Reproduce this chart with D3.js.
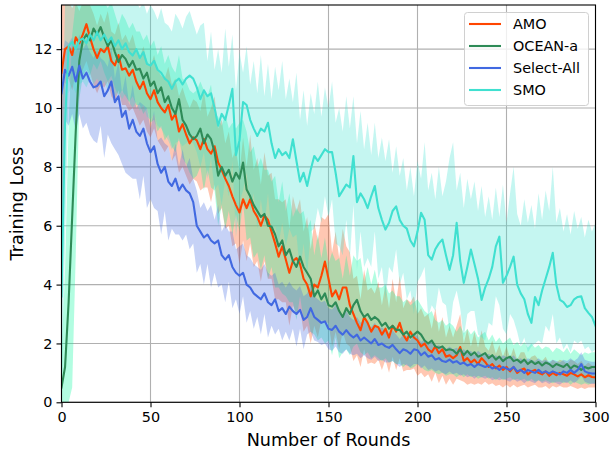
<!DOCTYPE html>
<html>
<head>
<meta charset="utf-8">
<script src="https://cdn.jsdelivr.net/npm/d3@7"></script>
<style>
  body { margin: 0; background: #fff; }
  svg { display: block; }
  text { font-family: "DejaVu Sans", sans-serif; fill: #000; }
</style>
</head>
<body>
<svg id="chart" width="612" height="450"></svg>
<script>
// Training rounds sampled every 2 rounds
const rounds = d3.range(0, 301, 2);

// AMO
const amoMean = [
  11.2, 12.0, 12.1, 11.8, 12.4, 12.2, 12.5, 12.85, 12.4, 12.0,
  11.7, 12.0, 11.9, 12.1, 11.6, 11.45, 11.8, 11.3, 11.35, 11.1,
  11.3, 10.9, 10.65, 10.9, 10.5, 10.3, 10.6, 10.2, 10.0, 9.85,
  10.1, 9.6, 9.8, 9.2, 9.45, 9.1, 8.8, 9.0, 8.9, 8.6,
  8.95, 8.6, 8.45, 8.7, 8.15, 7.9, 7.6, 7.35, 7.0, 6.7,
  6.45, 6.9, 6.6, 6.9, 6.5, 6.3, 6.0, 6.35, 6.2, 5.8,
  5.4, 4.95, 5.3, 4.85, 4.4, 4.8, 4.9, 4.7, 4.2, 4.0,
  3.6, 4.0, 3.9, 4.3, 4.78, 4.2, 3.6, 3.8, 3.5, 3.9,
  3.9, 3.3, 3.0, 2.7, 2.45, 2.9, 2.7, 2.4, 2.6, 2.55,
  2.3, 2.5, 2.2, 2.6, 2.4, 2.7, 2.3, 2.1, 2.4, 2.2,
  2.1, 1.9, 2.0, 1.8, 1.7, 1.9, 1.67, 1.8, 1.55, 1.6,
  1.5, 1.6, 1.88, 1.4, 1.5, 1.35, 1.45, 1.3, 1.5, 1.37,
  1.2, 1.3, 1.15, 1.25, 1.1, 1.2, 1.05, 1.2, 1.0, 1.1,
  1.15, 0.95, 1.05, 1.1, 1.0, 0.95, 1.05, 0.9, 1.0, 0.92,
  1.0, 0.95, 0.9, 1.0, 0.95, 0.88, 0.95, 0.85, 0.92, 0.86,
  0.85
];
const amoHi = [
  13.6, 13.6, 13.6, 13.4, 13.6, 13.3, 13.6, 13.6, 13.5, 13.2,
  12.8, 13.2, 12.9, 13.3, 12.6, 12.5, 12.9, 12.3, 12.5, 12.2,
  12.5, 12.0, 11.7, 12.1, 11.6, 11.4, 11.8, 11.3, 11.1, 11.0,
  11.4, 10.8, 11.0, 10.4, 10.7, 10.3, 10.0, 10.3, 10.2, 9.9,
  10.6, 9.7, 10.0, 10.4, 9.3, 9.6, 8.8, 9.2, 8.3, 8.6,
  7.8, 9.0, 8.0, 9.1, 7.9, 8.3, 7.4, 8.5, 7.7, 7.8,
  6.9, 6.9, 6.8, 6.9, 5.9, 7.0, 6.5, 6.9, 5.8, 6.3,
  5.2, 6.1, 5.5, 6.3, 6.2, 6.4, 5.1, 5.8, 4.9, 5.9,
  5.3, 5.1, 4.2, 4.3, 3.5, 4.5, 3.8, 3.9, 3.7, 4.1,
  3.3, 4.0, 3.2, 4.2, 3.4, 4.3, 3.2, 3.5, 3.4, 3.6,
  3.0, 3.2, 2.9, 3.0, 2.5, 3.2, 2.4, 2.9, 2.2, 2.6,
  2.2, 2.6, 3.0, 2.0, 2.5, 1.9, 2.4, 1.85, 2.45, 1.9,
  1.75, 2.1, 1.65, 1.95, 1.55, 1.9, 1.5, 1.85, 1.45, 1.7,
  1.7, 1.4, 1.55, 1.6, 1.45, 1.4, 1.55, 1.3, 1.45, 1.35,
  1.45, 1.4, 1.3, 1.45, 1.4, 1.3, 1.4, 1.25, 1.35, 1.25,
  1.25
];
const amoLo = [
  2.0, 10.8, 11.0, 10.6, 11.2, 11.0, 11.3, 11.6, 11.2, 10.8,
  10.5, 10.8, 10.7, 10.9, 10.4, 10.2, 10.6, 10.1, 10.1, 9.9,
  10.0, 9.7, 9.4, 9.6, 9.2, 9.0, 9.3, 8.9, 8.7, 8.5,
  8.7, 8.2, 8.4, 7.8, 8.0, 7.7, 7.4, 7.6, 7.5, 7.2,
  7.3, 7.3, 6.8, 7.4, 6.4, 6.6, 5.9, 6.0, 5.3, 5.4,
  4.7, 5.5, 4.8, 5.4, 4.6, 4.8, 4.1, 4.8, 4.2, 4.2,
  3.5, 3.5, 3.4, 3.4, 2.6, 3.3, 3.0, 3.2, 2.4, 2.6,
  2.0, 2.6, 2.2, 2.8, 2.7, 2.7, 1.9, 2.4, 1.8, 2.4,
  2.0, 1.9, 1.4, 1.6, 1.2, 1.8, 1.3, 1.35, 1.3, 1.45,
  1.1, 1.45, 1.0, 1.55, 1.1, 1.5, 1.05, 1.1, 1.1, 1.15,
  0.9, 1.0, 0.85, 0.95, 0.7, 1.0, 0.65, 0.9, 0.6, 0.8,
  0.6, 0.8, 0.75, 0.7, 0.6, 0.65, 0.6, 0.65, 0.6, 0.7,
  0.6, 0.65, 0.55, 0.6, 0.5, 0.6, 0.5, 0.6, 0.5, 0.55,
  0.6, 0.5, 0.55, 0.6, 0.5, 0.5, 0.55, 0.45, 0.55, 0.5,
  0.55, 0.5, 0.5, 0.55, 0.5, 0.45, 0.5, 0.45, 0.5, 0.5,
  0.5
];

// OCEAN-a
const oceanMean = [
  0.5, 1.2, 3.4, 6.3, 9.2, 11.6, 12.3, 12.5, 12.3, 12.7,
  12.5, 12.75, 12.4, 12.1, 12.3, 11.9, 11.56, 11.8, 11.67, 11.4,
  11.6, 11.3, 11.33, 11.0, 11.2, 10.75, 10.9, 10.5, 10.7, 10.2,
  10.4, 10.0, 9.8, 10.3, 9.6, 9.4, 9.1, 8.94, 9.05, 9.3,
  8.8, 9.1, 8.94, 8.5, 7.7, 8.0, 7.7, 7.9, 7.5, 7.8,
  7.6, 8.15, 7.23, 7.0, 6.7, 6.5, 6.3, 6.4, 6.0, 5.97,
  5.7, 5.3, 5.5, 5.0, 5.2, 4.8, 4.6, 4.95, 4.6, 4.4,
  4.2, 3.6, 3.8, 3.5, 3.7, 3.3, 3.25, 3.4, 3.1, 2.9,
  3.2, 3.0, 3.3, 3.48, 3.1, 2.9, 3.0, 2.8, 2.9, 2.8,
  2.6, 2.7, 2.5, 2.6, 2.46, 2.46, 2.3, 2.4, 2.2, 2.3,
  2.4, 2.3, 2.1, 2.0, 2.1, 1.9, 1.85, 1.9, 1.77, 1.8,
  1.77, 1.65, 1.8, 1.6, 1.75, 1.6, 1.7, 1.55, 1.6, 1.67,
  1.5, 1.6, 1.45, 1.55, 1.4, 1.5, 1.55, 1.4, 1.45, 1.35,
  1.45, 1.3, 1.4, 1.3, 1.37, 1.25, 1.35, 1.3, 1.2, 1.3,
  1.25, 1.2, 1.3, 1.15, 1.25, 1.2, 1.1, 1.2, 1.15, 1.2,
  1.2
];
const oceanHi = [
  1.5, 4.5, 9.5, 12.5, 13.6, 13.6, 13.6, 13.6, 13.6, 13.6,
  13.6, 13.6, 13.6, 13.4, 13.6, 13.2, 12.8, 13.2, 13.0, 12.7,
  12.9, 12.6, 12.6, 12.3, 12.5, 12.1, 12.3, 11.8, 12.1, 11.5,
  11.8, 11.4, 11.2, 11.8, 11.0, 10.9, 10.6, 10.5, 10.6, 10.9,
  10.6, 10.4, 10.8, 9.8, 9.7, 9.4, 9.8, 9.3, 9.5, 9.3,
  9.5, 9.6, 9.2, 8.5, 8.7, 8.0, 8.3, 7.9, 7.9, 7.5,
  7.7, 6.8, 7.5, 6.5, 7.1, 6.3, 6.6, 6.4, 6.5, 5.9,
  6.2, 5.0, 5.7, 4.9, 5.6, 4.7, 5.1, 4.8, 4.9, 4.2,
  5.0, 4.3, 5.0, 4.8, 4.9, 4.1, 4.6, 4.0, 4.5, 3.9,
  3.9, 4.0, 3.7, 3.8, 3.6, 3.6, 3.4, 3.5, 3.3, 3.4,
  3.5, 3.3, 3.1, 3.0, 3.1, 2.8, 2.7, 2.8, 2.6, 2.7,
  2.6, 2.4, 2.6, 2.35, 2.5, 2.3, 2.45, 2.2, 2.3, 2.4,
  2.1, 2.3, 2.05, 2.2, 2.0, 2.1, 2.2, 1.95, 2.05, 1.9,
  2.05, 1.85, 2.0, 1.85, 1.95, 1.8, 1.9, 1.85, 1.7, 1.85,
  1.8, 1.7, 1.85, 1.65, 1.8, 1.7, 1.6, 1.7, 1.65, 1.7,
  1.7
];
const oceanLo = [
  0.0, 0.0, 0.0, 0.5, 5.0, 10.3, 11.1, 11.3, 11.1, 11.5,
  11.3, 11.6, 11.2, 10.9, 11.1, 10.7, 10.4, 10.6, 10.4, 10.2,
  10.4, 10.1, 10.1, 9.8, 10.0, 9.5, 9.6, 9.2, 9.4, 8.9,
  9.1, 8.7, 8.5, 9.0, 8.3, 8.1, 7.8, 7.6, 7.7, 8.0,
  7.2, 7.9, 7.3, 7.2, 6.0, 6.7, 5.9, 6.5, 5.7, 6.4,
  5.8, 6.8, 5.5, 5.6, 4.9, 5.1, 4.5, 5.0, 4.2, 4.6,
  3.9, 3.9, 3.7, 3.6, 3.4, 3.4, 2.8, 3.6, 2.8, 3.0,
  2.4, 2.3, 2.1, 2.2, 2.0, 2.1, 1.6, 2.2, 1.5, 1.7,
  1.8, 1.6, 1.9, 2.0, 1.7, 1.6, 1.7, 1.5, 1.6, 1.5,
  1.4, 1.5, 1.35, 1.4, 1.3, 1.3, 1.2, 1.3, 1.15, 1.2,
  1.3, 1.2, 1.1, 1.05, 1.1, 1.0, 0.95, 1.0, 0.9, 0.95,
  0.95, 0.85, 0.95, 0.85, 0.95, 0.85, 0.9, 0.8, 0.85, 0.9,
  0.8, 0.85, 0.75, 0.85, 0.75, 0.8, 0.85, 0.75, 0.8, 0.75,
  0.8, 0.7, 0.8, 0.7, 0.75, 0.7, 0.75, 0.7, 0.65, 0.7,
  0.7, 0.65, 0.7, 0.6, 0.7, 0.65, 0.6, 0.65, 0.6, 0.65,
  0.65
];

// Select-All
const selectMean = [
  10.5, 11.3, 11.1, 11.4, 10.9, 11.44, 11.0, 11.2, 10.9, 10.7,
  10.75, 10.9, 10.4, 10.6, 10.9, 10.2, 10.4, 9.7, 9.9, 9.3,
  9.6, 9.2, 9.05, 9.3, 8.8, 8.5, 8.7, 8.1, 7.8, 8.0,
  7.5, 7.35, 7.6, 7.2, 7.4, 7.2, 7.1, 6.8, 6.0, 5.8,
  5.6, 5.7, 5.5, 5.4, 5.5, 5.0, 4.85, 5.0, 4.6, 4.4,
  4.3, 4.4, 4.0, 3.9, 3.7, 3.6, 3.5, 3.7, 3.4, 3.3,
  3.5, 3.1, 3.2, 3.0, 3.25, 3.1, 3.0, 3.14, 2.8, 2.9,
  3.2, 2.9, 2.8, 2.7, 2.75, 2.5, 2.46, 2.6, 2.4, 2.3,
  2.45, 2.3, 2.2, 2.3, 2.1, 2.2, 2.1, 2.0, 2.15, 1.95,
  2.0, 1.9, 1.85, 1.95, 1.8, 1.67, 1.8, 1.75, 1.65, 1.8,
  1.77, 1.6, 1.7, 1.55, 1.6, 1.45, 1.5, 1.4, 1.37, 1.45,
  1.35, 1.4, 1.3, 1.35, 1.25, 1.3, 1.2, 1.3, 1.25, 1.2,
  1.25, 1.15, 1.2, 1.1, 1.2, 1.15, 1.1, 1.2, 1.05, 1.1,
  1.0, 1.1, 1.05, 1.0, 1.1, 1.0, 1.05, 0.98, 1.05, 1.0,
  0.95, 1.05, 1.0, 1.1, 1.0, 1.1, 1.3, 1.05, 1.0, 0.98,
  0.98
];
const selectHi = [
  11.5, 12.3, 12.2, 12.4, 11.9, 12.5, 12.0, 12.2, 11.9, 11.7,
  12.0, 11.7, 11.6, 11.4, 12.1, 11.0, 11.6, 10.5, 11.1, 10.1,
  10.8, 10.0, 10.2, 10.1, 10.0, 9.3, 9.9, 8.9, 9.0, 8.8,
  8.7, 8.2, 8.8, 8.0, 8.6, 8.0, 8.3, 7.6, 7.2, 6.6,
  6.8, 6.5, 6.7, 6.2, 6.7, 5.8, 6.05, 5.8, 5.8, 5.2,
  5.3, 5.4, 5.0, 4.9, 4.7, 4.6, 4.5, 4.7, 4.4, 4.3,
  4.4, 4.0, 4.1, 3.9, 4.1, 3.9, 3.8, 3.95, 3.6, 3.7,
  4.0, 3.6, 3.5, 3.4, 3.45, 3.2, 3.15, 3.3, 3.05, 2.95,
  3.1, 2.9, 2.8, 2.9, 2.7, 2.8, 2.65, 2.55, 2.7, 2.5,
  2.55, 2.45, 2.35, 2.45, 2.3, 2.15, 2.3, 2.25, 2.1, 2.3,
  2.25, 2.05, 2.15, 2.0, 2.05, 1.9, 1.95, 1.85, 1.8, 1.9,
  1.8, 1.85, 1.75, 1.8, 1.7, 1.75, 1.6, 1.75, 1.65, 1.6,
  1.65, 1.55, 1.6, 1.5, 1.6, 1.55, 1.5, 1.6, 1.45, 1.5,
  1.4, 1.5, 1.45, 1.4, 1.5, 1.4, 1.45, 1.38, 1.45, 1.4,
  1.35, 1.45, 1.4, 1.5, 1.4, 1.5, 1.7, 1.45, 1.4, 1.38,
  1.38
];
const selectLo = [
  3.0, 9.6, 9.4, 9.8, 9.2, 9.8, 9.3, 9.5, 9.1, 8.9,
  8.8, 9.4, 8.3, 9.1, 8.8, 8.6, 8.4, 8.1, 7.8, 7.7,
  7.6, 7.6, 6.9, 7.7, 6.6, 6.9, 6.6, 6.5, 5.7, 6.5,
  5.5, 5.9, 5.7, 5.7, 5.5, 5.7, 5.2, 5.4, 4.4, 4.7,
  4.0, 4.7, 3.9, 4.4, 3.9, 4.0, 3.4, 4.1, 3.2, 3.5,
  3.0, 3.6, 2.7, 3.1, 2.5, 2.9, 2.3, 3.0, 2.2, 2.6,
  2.3, 2.5, 2.1, 2.4, 2.1, 2.5, 1.9, 2.5, 1.8, 2.3,
  2.4, 2.1, 2.05, 1.95, 2.0, 1.8, 1.75, 1.9, 1.7, 1.65,
  1.8, 1.65, 1.6, 1.65, 1.5, 1.6, 1.5, 1.45, 1.55, 1.4,
  1.45, 1.35, 1.35, 1.4, 1.3, 1.2, 1.3, 1.25, 1.2, 1.3,
  1.3, 1.15, 1.25, 1.1, 1.15, 1.05, 1.1, 1.0, 0.95, 1.05,
  0.95, 1.0, 0.9, 0.95, 0.85, 0.9, 0.8, 0.9, 0.85, 0.8,
  0.85, 0.75, 0.8, 0.75, 0.8, 0.75, 0.7, 0.8, 0.7, 0.75,
  0.65, 0.75, 0.7, 0.65, 0.75, 0.65, 0.7, 0.62, 0.7, 0.65,
  0.6, 0.7, 0.65, 0.75, 0.65, 0.75, 0.9, 0.7, 0.65, 0.62,
  0.62
];

// SMO
const smoMean = [
  3.6, 9.5, 12.1, 12.25, 12.0, 12.3, 12.36, 12.2, 12.5, 12.3,
  12.58, 12.3, 12.5, 12.24, 12.4, 12.1, 12.3, 12.0, 12.2, 11.9,
  11.78, 12.0, 11.7, 11.9, 11.5, 11.44, 11.6, 11.3, 11.2, 11.0,
  10.9, 10.65, 10.9, 11.0, 10.8, 11.0, 11.1, 11.0, 10.7, 10.3,
  10.6, 10.4, 10.5, 10.0, 9.4, 9.8, 9.6, 10.1, 10.65, 8.4,
  8.9, 10.2, 10.1, 9.6, 9.3, 9.05, 9.3, 9.2, 9.5, 8.8,
  8.3, 8.6, 8.4, 8.5, 8.3, 8.94, 8.2, 7.5, 7.8, 7.35,
  7.9, 8.37, 8.2, 8.4, 8.6, 8.5, 8.5, 7.8, 7.0, 7.2,
  7.4, 7.3, 8.37, 6.8, 7.1, 6.9, 6.6, 7.0, 7.35, 6.6,
  6.2, 5.87, 6.1, 6.5, 6.66, 6.2, 6.0, 5.9, 5.5, 5.3,
  5.8, 6.44, 6.2, 5.0, 4.85, 5.2, 5.4, 5.53, 5.0, 4.5,
  5.0, 6.1, 4.8, 4.06, 4.6, 5.19, 4.7, 4.2, 3.48, 3.9,
  4.2, 4.6, 5.3, 5.63, 4.06, 4.3, 4.6, 4.95, 4.0, 3.7,
  3.5, 3.0, 2.7, 3.58, 3.3, 3.8, 4.2, 4.6, 5.08, 4.0,
  3.48, 3.4, 3.24, 3.3, 3.5, 3.58, 3.6, 3.2, 3.04, 2.9,
  2.6
];
const smoHi = [
  8.0, 13.6, 13.6, 13.6, 13.6, 13.6, 13.6, 13.6, 13.6, 13.6,
  13.6, 13.6, 13.6, 13.6, 13.6, 13.6, 13.6, 13.6, 13.6, 13.6,
  13.6, 13.6, 13.4, 13.6, 13.2, 13.5, 13.3, 13.0, 13.4, 12.9,
  12.8, 12.6, 13.2, 13.0, 12.7, 13.1, 13.3, 12.9, 12.5, 12.8,
  12.9, 11.6, 12.6, 11.3, 12.0, 11.2, 12.7, 11.4, 12.5, 10.6,
  11.9, 11.2, 12.1, 10.8, 11.6, 10.5, 11.8, 10.4, 11.5, 10.3,
  11.4, 10.6, 11.6, 10.3, 11.0, 10.2, 11.2, 9.6, 10.6, 9.4,
  10.5, 9.8, 10.9, 9.7, 10.7, 10.0, 10.9, 9.5, 10.0, 9.2,
  10.4, 9.3, 10.4, 8.8, 9.9, 8.6, 9.5, 8.4, 9.5, 8.3,
  9.0, 8.2, 8.94, 7.8, 8.7, 7.7, 8.3, 7.2, 8.0, 7.0,
  8.2, 7.6, 8.84, 7.2, 7.8, 6.9, 8.0, 7.0, 7.5, 8.3,
  8.84, 7.2, 7.8, 6.6, 7.6, 6.9, 7.5, 6.5, 7.35, 6.3,
  7.0, 6.2, 7.3, 6.3, 7.4, 6.1, 7.1, 8.0, 6.4, 6.0,
  6.9, 6.1, 6.7, 5.9, 7.1, 6.2, 7.2, 6.5, 8.0, 6.1,
  6.6, 5.8, 6.4, 5.7, 6.5, 5.9, 6.3, 5.6, 6.2, 5.8,
  6.1
];
const smoLo = [
  0.0, 5.5, 10.5, 10.8, 10.5, 10.8, 10.9, 10.7, 11.0, 10.8,
  11.0, 10.7, 10.9, 10.6, 10.8, 10.4, 10.6, 10.3, 10.5, 10.2,
  10.0, 10.2, 9.9, 10.1, 9.7, 9.6, 9.8, 9.4, 9.3, 9.1,
  8.9, 8.6, 8.8, 8.9, 8.7, 8.8, 8.9, 8.8, 8.5, 8.0,
  8.5, 7.6, 8.3, 7.2, 7.4, 6.7, 7.6, 7.0, 8.2, 5.6,
  6.8, 7.2, 7.8, 6.5, 7.1, 5.9, 6.9, 6.0, 7.1, 5.7,
  6.0, 5.4, 6.1, 5.3, 5.9, 5.6, 5.7, 4.4, 5.4, 4.3,
  5.8, 5.9, 6.6, 6.1, 7.0, 6.3, 6.9, 5.4, 5.3, 5.0,
  6.2, 4.9, 6.7, 4.5, 5.8, 4.6, 4.9, 4.6, 5.8, 4.2,
  4.6, 3.5, 4.6, 4.4, 5.2, 4.0, 4.4, 3.5, 3.8, 3.0,
  4.1, 4.3, 4.6, 2.9, 3.3, 3.1, 3.9, 3.4, 3.3, 2.4,
  3.4, 3.8, 3.2, 2.2, 3.0, 3.1, 3.1, 2.3, 2.2, 2.1,
  2.7, 2.6, 3.6, 3.3, 2.5, 2.3, 3.0, 2.8, 2.4, 1.9,
  2.2, 1.7, 1.9, 2.0, 2.1, 2.0, 2.6, 2.4, 3.0, 2.0,
  2.2, 1.8, 2.0, 1.7, 2.1, 2.0, 2.1, 1.8, 1.9, 1.7,
  1.8
];

const seriesNames = ["AMO", "OCEAN-a", "Select-All", "SMO"];
const lineColors = ["#ff4500", "#2e8b57", "#4169e1", "#40e0d0"];
const bandColors = ["#ff4500", "#00fa9a", "#4169e1", "#40e0d0"];
const xTicks = [0, 50, 100, 150, 200, 250, 300];
const yTicks = [0, 2, 4, 6, 8, 10, 12];

const series = [
  { mean: amoMean, lo: amoLo, hi: amoHi },
  { mean: oceanMean, lo: oceanLo, hi: oceanHi },
  { mean: selectMean, lo: selectLo, hi: selectHi },
  { mean: smoMean, lo: smoLo, hi: smoHi }
].map((s, i) => ({ ...s, name: seriesNames[i], color: lineColors[i], band: bandColors[i] }));

series.forEach(s => {
  [s.mean, s.lo, s.hi].forEach(arr => {
    if (arr.length !== rounds.length) throw new Error(s.name + " length " + arr.length);
  });
});

const svg = d3.select("#chart");
const plot = { left: 61.5, right: 595.5, top: 5, bottom: 402.3 };

const x = d3.scaleLinear().domain([0, 300]).range([plot.left, plot.right]);
const y = d3.scaleLinear().domain([0, 13.5]).range([plot.bottom, plot.top]);

svg.append("defs").append("clipPath").attr("id", "plot-clip")
  .append("rect")
  .attr("x", plot.left).attr("y", plot.top)
  .attr("width", plot.right - plot.left).attr("height", plot.bottom - plot.top);

// grid
const grid = svg.append("g").attr("stroke", "#b0b0b0").attr("stroke-width", 1.1);
grid.selectAll("line.gx").data(xTicks).join("line")
  .attr("x1", d => x(d)).attr("x2", d => x(d))
  .attr("y1", plot.top).attr("y2", plot.bottom);
grid.selectAll("line.gy").data(yTicks).join("line")
  .attr("x1", plot.left).attr("x2", plot.right)
  .attr("y1", d => y(d)).attr("y2", d => y(d));

const layer = svg.append("g").attr("clip-path", "url(#plot-clip)");

// variance bands
const area = d3.area()
  .x((d, i) => x(rounds[i]))
  .y0(d => y(d[0]))
  .y1(d => y(d[1]));
series.forEach(s => {
  const pts = rounds.map((r, i) => [s.lo[i], s.hi[i]]);
  layer.append("path")
    .attr("d", area(pts))
    .attr("fill", s.band)
    .attr("fill-opacity", 0.3)
    .attr("stroke", "none");
});

// mean curves
const line = d3.line()
  .x((d, i) => x(rounds[i]))
  .y(d => y(d));
series.forEach(s => {
  layer.append("path")
    .attr("d", line(s.mean))
    .attr("fill", "none")
    .attr("stroke", s.color)
    .attr("stroke-width", 2.1)
    .attr("stroke-linejoin", "round")
    .attr("stroke-linecap", "square");
});

// axes
const xAxis = d3.axisBottom(x).tickValues(xTicks).tickSize(5).tickPadding(4);
const yAxis = d3.axisLeft(y).tickValues(yTicks).tickSize(5).tickPadding(4);

const gx = svg.append("g").attr("transform", `translate(0,${plot.bottom})`).call(xAxis);
const gy = svg.append("g").attr("transform", `translate(${plot.left},0)`).call(yAxis);
[gx, gy].forEach(g => {
  g.select(".domain").remove();
  g.selectAll(".tick line").attr("stroke", "#000").attr("stroke-width", 1.1);
  g.selectAll(".tick text").attr("font-size", 14.4).attr("font-family", "DejaVu Sans").attr("fill", "#000");
});

// frame
svg.append("rect")
  .attr("x", plot.left).attr("y", plot.top)
  .attr("width", plot.right - plot.left).attr("height", plot.bottom - plot.top)
  .attr("fill", "none").attr("stroke", "#000").attr("stroke-width", 1.1);

// axis titles
svg.append("text")
  .attr("x", (plot.left + plot.right) / 2).attr("y", 446)
  .attr("text-anchor", "middle").attr("font-size", 17.6)
  .text("Number of Rounds");
svg.append("text")
  .attr("transform", `translate(23,${(plot.top + plot.bottom) / 2}) rotate(-90)`)
  .attr("text-anchor", "middle").attr("font-size", 17.6)
  .text("Training Loss");

// legend
const legend = svg.append("g").attr("transform", "translate(464,12)");
legend.append("rect")
  .attr("x", 0.5).attr("y", 0.5).attr("width", 124).attr("height", 93)
  .attr("rx", 3).attr("fill", "#fff").attr("fill-opacity", 0.8)
  .attr("stroke", "#d0d0d0").attr("stroke-width", 1);
const items = legend.selectAll("g.item").data(series).join("g")
  .attr("transform", (d, i) => `translate(0,${12 + i * 22})`);
items.append("line")
  .attr("x1", 5).attr("x2", 37).attr("y1", 0).attr("y2", 0)
  .attr("stroke", d => d.color).attr("stroke-width", 2.1);
items.append("text")
  .attr("x", 49).attr("y", 0).attr("dy", "0.36em")
  .attr("font-size", 14.4)
  .text(d => d.name);
</script>
</body>
</html>
